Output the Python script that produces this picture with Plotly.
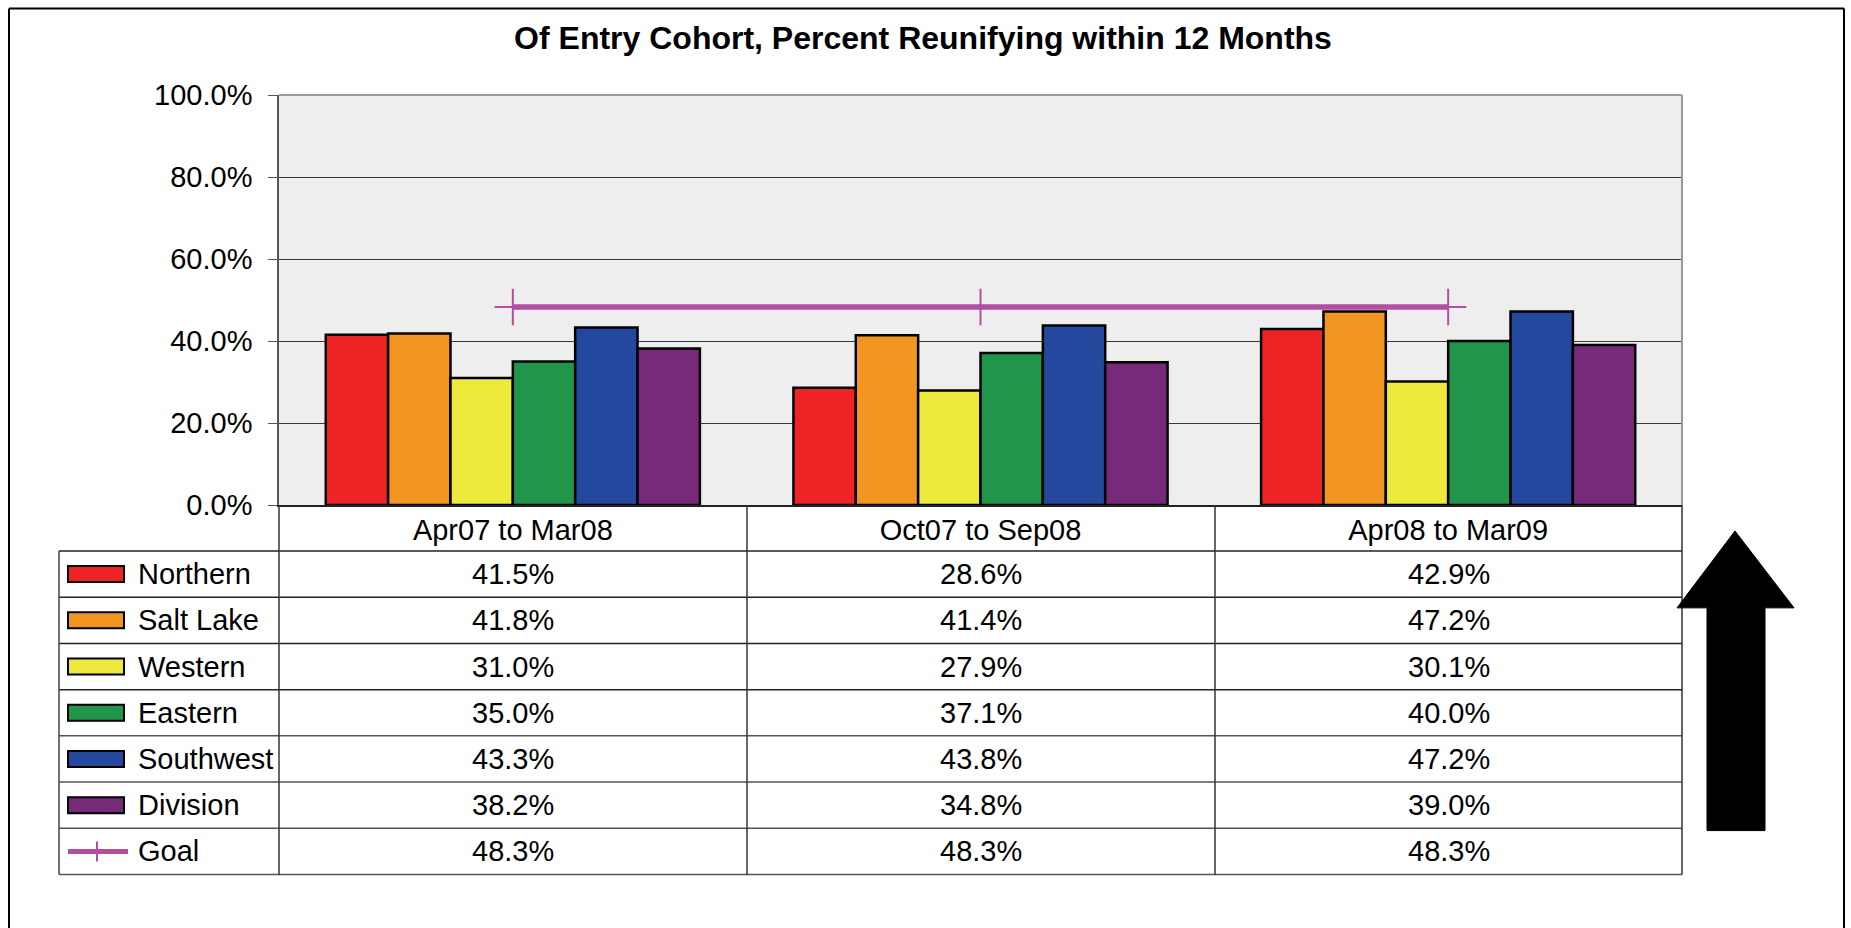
import plotly.graph_objects as go

# data
periods = ["Apr07 to Mar08", "Oct07 to Sep08", "Apr08 to Mar09"]
regions = ["Northern", "Salt Lake", "Western", "Eastern", "Southwest", "Division"]
northern = [41.5, 28.6, 42.9]
salt_lake = [41.8, 41.4, 47.2]
western = [31.0, 27.9, 30.1]
eastern = [35.0, 37.1, 40.0]
southwest = [43.3, 43.8, 47.2]
division = [38.2, 34.8, 39.0]
goal = [48.3, 48.3, 48.3]

series = [northern, salt_lake, western, eastern, southwest, division]
colors = ["#EE2325", "#F39621", "#EEEA3D", "#21964A", "#25489F", "#772A79"]
goal_color = "#B24FA2"

FONT = "Liberation Sans, Arial, sans-serif"
W, H = 1851, 928
L, R, T, B = 279, 1682, 94.5, 505


def px(x):
    return (x - L) / (R - L)


def py(y):
    return (B - y) / (B - T)


fig = go.Figure()

for name, vals, c in zip(regions, series, colors):
    fig.add_trace(go.Bar(
        x=periods, y=vals, name=name,
        marker=dict(color=c, line=dict(color="black", width=2.5)),
    ))

fig.add_trace(go.Scatter(
    x=periods, y=goal, name="Goal", mode="lines+markers",
    line=dict(color=goal_color, width=5.5),
    marker=dict(symbol="cross-thin", size=26, line=dict(color=goal_color, width=2)),
))

# table geometry (pixels)
row_top = 551
row_h = (875 - 551) / 7
col_edges = [L, 747, 1215, R]

shapes = []


def hline(x0, x1, y, color="black", width=1.5):
    shapes.append(dict(type="line", xref="paper", yref="paper",
                       x0=px(x0), x1=px(x1), y0=py(y), y1=py(y),
                       line=dict(color=color, width=width)))


def vline(x, y0, y1, color="black", width=1.5):
    shapes.append(dict(type="line", xref="paper", yref="paper",
                       x0=px(x), x1=px(x), y0=py(y0), y1=py(y1),
                       line=dict(color=color, width=width)))


# outer frame
hline(9, 1844, 8, width=2)
vline(9, 8, 940, width=2)
vline(1844, 8, 940, width=2)

# gray border on top and right of plot area
hline(L, R, T, color="#999", width=2)
vline(R, T, B, color="#999", width=2)

# data table lines
for i in range(8):
    hline(59, R, row_top + i * row_h, color="#222" if i < 4 else "#555")
vline(59, row_top, 875, color="#444")
for x in col_edges:
    vline(x, B, 875, color="#333")

annotations = []
labels = regions + ["Goal"]
table_vals = series + [goal]
for i, (lab, vals) in enumerate(zip(labels, table_vals)):
    yc = row_top + (i + 0.5) * row_h
    if lab == "Goal":
        shapes.append(dict(type="line", xref="paper", yref="paper",
                           x0=px(68), x1=px(128), y0=py(yc), y1=py(yc),
                           line=dict(color=goal_color, width=5)))
        shapes.append(dict(type="line", xref="paper", yref="paper",
                           x0=px(97), x1=px(97), y0=py(yc - 10), y1=py(yc + 10),
                           line=dict(color=goal_color, width=2)))
    else:
        shapes.append(dict(type="rect", xref="paper", yref="paper",
                           x0=px(68), x1=px(124), y0=py(yc - 8), y1=py(yc + 8),
                           fillcolor=colors[i], line=dict(color="black", width=2)))
    annotations.append(dict(text=lab, xref="paper", yref="paper",
                            x=px(136), y=py(yc), xanchor="left", yanchor="middle",
                            showarrow=False, font=dict(size=29, family=FONT, color="black")))
    for j, v in enumerate(vals):
        xc = (col_edges[j] + col_edges[j + 1]) / 2
        annotations.append(dict(text=f"{v:.1f}%", xref="paper", yref="paper",
                                x=px(xc), y=py(yc), xanchor="center", yanchor="middle",
                                showarrow=False, font=dict(size=29, family=FONT, color="black")))

# big up arrow on the right
arrow = [(1735, 531), (1794, 608), (1765, 608), (1765, 831), (1707, 831),
         (1707, 608), (1677, 608)]
path = "M " + " L ".join(f"{px(x)},{py(y)}" for x, y in arrow) + " Z"
shapes.append(dict(type="path", xref="paper", yref="paper", path=path,
                   fillcolor="black", line=dict(color="black", width=1)))

fig.update_layout(
    width=W, height=H,
    margin=dict(l=L, r=W - R, t=T, b=H - B, pad=0),
    paper_bgcolor="white",
    plot_bgcolor="#EEEEEE",
    barmode="group", bargap=0.2, bargroupgap=0,
    showlegend=False,
    font=dict(family=FONT, size=29, color="black"),
    title=dict(text="<b>Of Entry Cohort, Percent Reunifying within 12 Months</b>",
               xref="container", x=923 / W, xanchor="center",
               yref="container", y=1 - 38 / H, yanchor="middle",
               font=dict(size=32, family=FONT, color="black")),
    shapes=shapes,
    annotations=annotations,
)

fig.update_yaxes(range=[0, 100], dtick=20, tickformat=".1f", ticksuffix="%",
                 showgrid=True, gridcolor="#3A3A3A", gridwidth=1.2,
                 ticks="outside", ticklen=9, tickcolor="#555",
                 showline=True, linecolor="#555", linewidth=1.5,
                 ticklabelstandoff=10, zeroline=False,
                 tickfont=dict(size=29, family=FONT))
fig.update_xaxes(showline=True, linecolor="#222", linewidth=2, mirror=False,
                 ticks="", tickfont=dict(size=29, family=FONT),
                 ticklabelstandoff=-2)

fig.write_html("out.html", config={"displayModeBar": False},
               post_script="document.body.style.margin='0';")
